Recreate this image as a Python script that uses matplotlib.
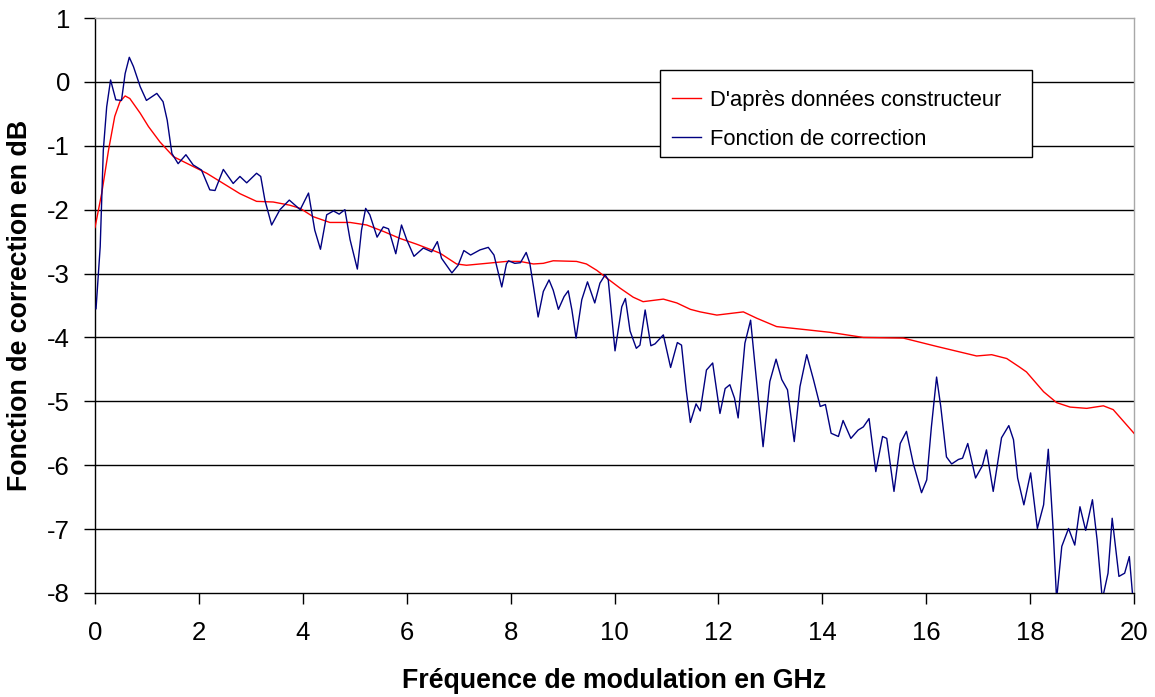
import matplotlib
matplotlib.use("Agg")
import matplotlib.pyplot as plt
from matplotlib.patches import Rectangle

plt.rcParams['font.family'] = ['Liberation Sans', 'DejaVu Sans']
plt.rcParams['axes.unicode_minus'] = False

# Fonction de correction (blue)
blue_freq = [0.02, 0.10, 0.16, 0.225, 0.30, 0.40, 0.51, 0.58, 0.66, 0.74, 0.87, 0.99,
             1.19, 1.31, 1.39, 1.48, 1.60, 1.75, 1.89, 2.05, 2.21, 2.31, 2.47, 2.66,
             2.79, 2.92, 3.11, 3.19, 3.27, 3.40, 3.56, 3.74, 3.95, 4.11, 4.23, 4.34,
             4.46, 4.59, 4.70, 4.81, 4.91, 5.05, 5.13, 5.21, 5.29, 5.43, 5.55, 5.65,
             5.79, 5.90, 6.00, 6.14, 6.32, 6.48, 6.59, 6.67, 6.87, 6.99, 7.10, 7.23,
             7.41, 7.57, 7.68, 7.83, 7.92, 7.96, 8.08, 8.19, 8.30, 8.37, 8.44, 8.53,
             8.63, 8.74, 8.82, 8.92, 9.03, 9.11, 9.18, 9.26, 9.37, 9.48, 9.62, 9.72,
             9.82, 9.88, 10.01, 10.14, 10.21, 10.30, 10.42, 10.49, 10.59, 10.70, 10.78,
             10.94, 11.08, 11.21, 11.29, 11.38, 11.46, 11.57, 11.65, 11.77, 11.89,
             12.03, 12.13, 12.22, 12.31, 12.38, 12.51, 12.62, 12.70, 12.86, 12.99,
             13.11, 13.22, 13.33, 13.46, 13.57, 13.70, 13.83, 13.96, 14.06, 14.17,
             14.31, 14.40, 14.55, 14.69, 14.79, 14.90, 15.03, 15.16, 15.24, 15.38,
             15.50, 15.62, 15.75, 15.91, 16.01, 16.10, 16.20, 16.28, 16.39, 16.49,
             16.62, 16.70, 16.80, 16.95, 17.08, 17.16, 17.29, 17.45, 17.59, 17.68,
             17.76, 17.88, 18.01, 18.14, 18.26, 18.35, 18.44, 18.51, 18.61, 18.74,
             18.86, 18.96, 19.07, 19.20, 19.29, 19.39, 19.50, 19.58, 19.71, 19.82,
             19.91, 19.98]
blue_db = [-3.55, -2.58, -1.07, -0.39, 0.03, -0.28, -0.29, 0.13, 0.385, 0.24, -0.075, -0.29,
           -0.18, -0.31, -0.60, -1.12, -1.28, -1.14, -1.30, -1.38, -1.69, -1.70, -1.37, -1.59,
           -1.48, -1.58, -1.43, -1.48, -1.85, -2.24, -2.00, -1.85, -2.00, -1.74, -2.32, -2.62,
           -2.08, -2.02, -2.07, -2.00, -2.47, -2.93, -2.32, -1.98, -2.08, -2.43, -2.27, -2.30,
           -2.69, -2.24, -2.47, -2.73, -2.60, -2.66, -2.50, -2.76, -2.99, -2.87, -2.64, -2.71,
           -2.63, -2.59, -2.71, -3.21, -2.85, -2.80, -2.84, -2.83, -2.67, -2.84, -3.20, -3.68,
           -3.28, -3.10, -3.26, -3.56, -3.36, -3.27, -3.57, -4.01, -3.41, -3.13, -3.46, -3.15,
           -3.02, -3.10, -4.21, -3.52, -3.39, -3.90, -4.17, -4.12, -3.57, -4.13, -4.10,
           -3.96, -4.47, -4.08, -4.12, -4.82, -5.33, -5.04, -5.15, -4.51, -4.40,
           -5.19, -4.80, -4.74, -4.95, -5.26, -4.09, -3.73, -4.40, -5.71, -4.69,
           -4.34, -4.66, -4.82, -5.63, -4.77, -4.27, -4.66, -5.08, -5.05, -5.50,
           -5.55, -5.30, -5.58, -5.45, -5.40, -5.27, -6.10, -5.55, -5.58, -6.41,
           -5.66, -5.47, -5.97, -6.43, -6.23, -5.40, -4.62, -5.08, -5.87, -5.98,
           -5.91, -5.89, -5.66, -6.20, -6.01, -5.76, -6.41, -5.57, -5.38, -5.60,
           -6.20, -6.62, -6.12, -6.99, -6.62, -5.75, -6.96, -8.10, -7.27, -6.99,
           -7.25, -6.65, -7.02, -6.54, -7.17, -8.10, -7.69, -6.83, -7.74, -7.69,
           -7.43, -8.10]

# D'après données constructeur (red)
red_freq = [0.0, 0.13, 0.26, 0.38, 0.48, 0.58, 0.67, 0.87, 1.03, 1.25, 1.51, 1.83, 2.15,
            2.47, 2.79, 3.11, 3.43, 3.75, 3.95, 4.20, 4.52, 4.91, 5.23, 5.55, 5.87, 6.19,
            6.64, 6.96, 7.15, 7.54, 7.92, 8.18, 8.44, 8.63, 8.82, 9.27, 9.46, 9.66, 9.85,
            10.11, 10.36, 10.55, 10.94, 11.20, 11.46, 11.65, 11.97, 12.48, 12.74, 13.12,
            13.70, 14.15, 14.79, 15.56, 16.20, 16.97, 17.26, 17.55, 17.79, 17.93, 18.26,
            18.51, 18.77, 19.09, 19.41, 19.60, 20.00]
red_db = [-2.28, -1.74, -1.07, -0.54, -0.31, -0.22, -0.26, -0.49, -0.70, -0.94, -1.17, -1.30, -1.43,
          -1.59, -1.75, -1.87, -1.88, -1.93, -1.98, -2.11, -2.20, -2.20, -2.24, -2.34, -2.45, -2.54,
          -2.68, -2.85, -2.87, -2.84, -2.81, -2.81, -2.85, -2.84, -2.80, -2.81, -2.85, -2.95, -3.07,
          -3.23, -3.37, -3.44, -3.40, -3.46, -3.56, -3.60, -3.65, -3.60, -3.70, -3.83,
          -3.88, -3.92, -4.00, -4.01, -4.14, -4.29, -4.27, -4.33, -4.46, -4.54, -4.85,
          -5.02, -5.09, -5.11, -5.07, -5.13, -5.50]

x_ticks = [0, 2, 4, 6, 8, 10, 12, 14, 16, 18, 20]
y_ticks = [1, 0, -1, -2, -3, -4, -5, -6, -7, -8]

W, H = 1155, 697
fig = plt.figure(figsize=(W / 100, H / 100), dpi=100)
ax = fig.add_axes([95/W, 1 - 593/H, (1134 - 95)/W, (593 - 18)/H])

for yv in y_ticks:
    if yv in (1, -8):
        continue
    ax.axhline(yv, color='black', lw=1.0, zorder=1)

ax.plot(red_freq, red_db, color='#ff0000', lw=1.0, label="D'après données constructeur", zorder=3)
ax.plot(blue_freq, blue_db, color='#000080', lw=1.0, label='Fonction de correction', zorder=4)

ax.set_xlim(0, 20)
ax.set_ylim(-8, 1)
ax.set_xticks(x_ticks)
ax.set_yticks(y_ticks)
ax.tick_params(axis='both', direction='out', length=8, width=1, color='black',
               labelsize=18.5)
ax.tick_params(axis='y', pad=10)
ax.tick_params(axis='x', pad=12)

ax.spines['left'].set_color('black')
ax.spines['bottom'].set_color('black')
ax.spines['top'].set_color('#a8a8a8')
ax.spines['right'].set_color('#a8a8a8')
for s in ax.spines.values():
    s.set_linewidth(1.0)

ax.set_xlabel('Fréquence de modulation en GHz', fontsize=19.3, fontweight='bold', labelpad=17)
ax.set_ylabel('Fonction de correction en dB', fontsize=19.3, fontweight='bold', labelpad=10)

# legend frame (drawn separately to match the asymmetric padding)
frame = Rectangle((660/W, 1 - 157/H), (1032 - 660)/W, 87/H, transform=fig.transFigure,
                  facecolor='white', edgecolor='black', lw=1.0, zorder=4.5)
ax.add_patch(frame)
frame.set_clip_on(False)

leg = ax.legend(loc='upper left',
                bbox_to_anchor=(660/W, 1 - 78/H),
                bbox_transform=fig.transFigure, fontsize=15.8,
                frameon=False, borderpad=0.55, labelspacing=0.8,
                handlelength=1.3, handletextpad=0.45, borderaxespad=0)
leg.set_zorder(5)

fig.savefig('out.png', dpi=100)
